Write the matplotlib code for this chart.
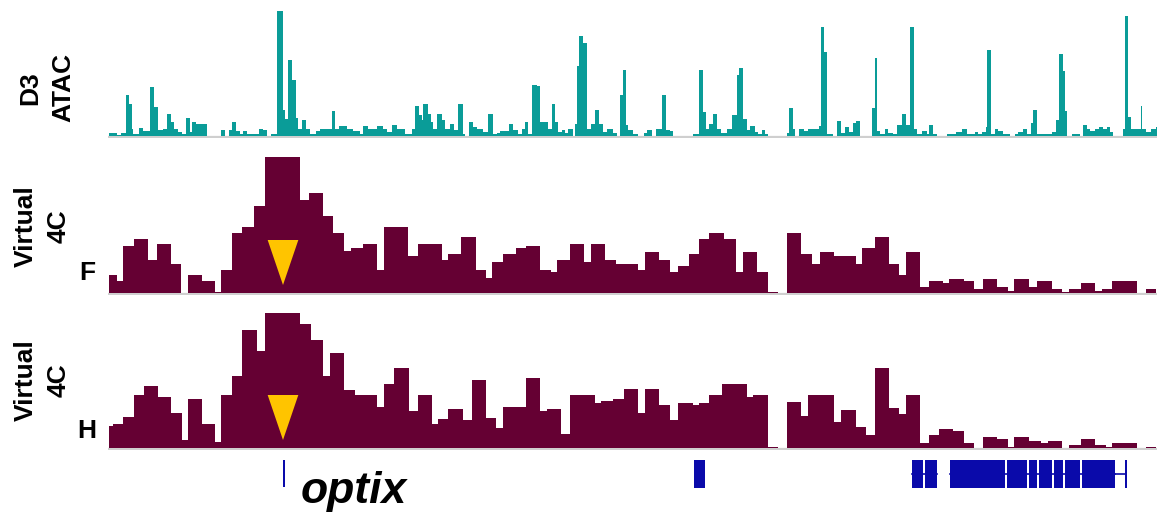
import matplotlib
matplotlib.use("Agg")
import matplotlib.pyplot as plt
from matplotlib.patches import Rectangle

W, H = 1159, 519
plt.rcParams['font.family'] = ['Liberation Sans', 'DejaVu Sans']

# ---------------- data (genomic position in arbitrary units) ----------------
atac_edges = [327,333,350,363,377,388,395,400,418,430,450,463,475,488,500,512,522,535,545,557,
              570,576,589,596,620,662,676,688,696,708,720,730,742,778,790,800,813,830,850,855,
              865,875,888,895,905,917,930,948,960,995,1006,1018,1042,1060,1080,1090,1105,1130,1148,1162,
              1175,1190,1215,1235,1245,1258,1265,1270,1283,1293,1300,1310,1325,1335,1350,1362,1373,1390,1395,1408,
              1420,1430,1450,1465,1478,1490,1500,1528,1540,1555,1565,1575,1585,1597,1610,1620,1645,1655,1665,1675,
              1685,1695,1705,1718,1725,1730,1738,1748,1760,1772,1786,1796,1808,1820,1840,1850,1860,1868,1878,1885,
              1900,1915,1933,1940,1957,1967,1985,1997,2010,2020,2080,2098,2110,2117,2128,2140,2152,2162,2180,2197,
              2210,2218,2228,2240,2250,2265,2275,2285,2295,2305,2360,2367,2378,2385,2398,2412,2425,2458,2462,2473,
              2480,2500,2510,2523,2535,2547,2560,2568,2580,2615,2625,2630,2640,2655,2665,2678,2690,2705,2717,2729,
              2742,2750,2767,2780,2787,2798,2810,2840,2855,2867,2885,2900,2910,2925,2935,2947,2957,2962,2972,2985,
              2995,3008,3030,3045,3055,3068,3082,3092,3100,3110,3125,3140,3155,3168,3176,3188,3195,3200,3215,3240,
              3250,3260,3270,3285,3298,3310,3320,3330,3340,3368,3375,3385,3392,3402,3422,3427,3437,3452,3467,3477]
atac_values = [3,3,1,3,41,32,7,2,8,5,49,29,6,7,22,14,7,4,2,18,
               4,14,12,12,0,6,0,6,14,5,2,5,2,7,6,0,2,125,26,17,
               76,56,18,7,16,7,2,5,7,25,7,10,7,5,2,10,7,10,7,4,
               11,7,2,7,30,21,16,32,22,14,7,22,16,7,12,6,32,2,0,14,
               9,7,4,22,2,3,5,12,6,2,7,14,2,51,50,14,7,32,14,4,
               6,3,7,0,12,70,100,93,7,12,26,12,4,7,3,0,41,66,11,6,
               2,0,3,6,0,7,41,6,5,0,2,66,24,7,12,22,7,3,7,21,
               61,68,17,6,10,4,2,6,2,0,3,28,7,0,7,5,7,10,109,84,
               2,0,15,3,9,4,13,15,0,28,78,5,2,7,3,2,11,22,11,109,
               7,2,5,2,11,2,0,2,2,4,7,2,2,4,2,4,9,86,2,7,
               5,2,0,2,4,7,2,13,26,2,2,2,4,16,82,65,25,0,2,0,
               11,7,5,7,9,7,9,4,0,7,120,19,7,7,30,7,4,7,9]

f_edges = [327,350,370,403,443,470,512,543,563,605,645,663,695,727,763,795,900,927,968,1000,
           1032,1052,1090,1132,1152,1225,1253,1325,1345,1383,1427,1458,1477,1508,1547,1578,1620,1653,1672,1710,
           1753,1772,1815,1847,1915,1935,1977,2010,2035,2066,2098,2128,2172,2209,2230,2272,2305,2335,2360,2403,
           2435,2460,2503,2567,2586,2624,2666,2698,2718,2760,2786,2830,2848,2892,2923,2950,2992,3023,3043,3086,
           3111,3155,3186,3206,3243,3286,3306,3336,3411,3437,3468]
f_values = [18,12,47,54,33,49,29,0,18,12,1,23,60,66,87,136,93,100,77,60,
            42,45,49,23,66,37,49,33,39,56,23,15,31,39,45,47,23,21,33,49,
            31,49,33,29,23,41,33,21,27,39,54,60,54,21,41,21,1.3,0,60,39,
            29,41,37,29,45,56,29,18,41,6,12,10,14,12,4,14,6,2,14,6,
            12,4,1,4,10,2,4,12,0,4]

h_edges = [327,338,370,403,433,475,512,545,563,605,645,663,695,727,770,795,900,933,970,990,
           1032,1065,1132,1152,1183,1227,1253,1295,1315,1345,1390,1415,1458,1488,1508,1578,1620,1640,1683,1710,
           1785,1803,1840,1872,1915,1935,1978,2010,2035,2080,2097,2128,2166,2240,2260,2305,2335,2360,2403,2423,
           2503,2523,2567,2598,2624,2666,2698,2718,2760,2786,2817,2860,2892,2923,2950,2992,3023,3043,3086,3123,
           3143,3186,3206,3243,3286,3318,3336,3411,3437,3468]
h_values = [22,24,31,53,62,51,35,8,49,24,6,53,72,118,97,135,124,108,72,95,
            58,53,41,64,80,37,53,24,29,39,28,68,30,20,41,70,37,39,14,53,
            45,47,49,59,35,59,43,28,45,43,45,53,64,51,53,1.3,0,46,32,53,
            26,38,21,13,80,40,34,53,5,13,19,17,5,0,11,9,1,11,7,5,
            7,0,3,9,3,1.5,5,0,1]

viewpoint = 849            # position of the optix viewpoint (triangle)
gene_tss = (849, 855)      # thin mark at optix start
gene_single = [(2082, 2115)]
gene_group1 = [(2736, 2768), (2775, 2812)]
gene_group2 = [(2850, 3016), (3022, 3080), (3086, 3112), (3118, 3156), (3162, 3190), (3196, 3240), (3246, 3346)]
gene_thin = [(3375, 3381)]
gene_label = "optix"

XMIN, XMAX = 324, 3471
TEAL = '#0A9C98'
MAROON = '#650033'
GOLD = '#FFC400'
BLUE = '#0A0AAA'
GREY = '#cfcfcf'

fig = plt.figure(figsize=(W / 100, H / 100), dpi=100)

def px_axes(x0, y0, x1, y1):
    ax = fig.add_axes([x0 / W, 1 - y1 / H, (x1 - x0) / W, (y1 - y0) / H])
    ax.set_xlim(XMIN, XMAX)
    ax.axis('off')
    return ax

# ATAC track
ax1 = px_axes(108, 10, 1157, 138)
ax1.set_ylim(-2, 126)
ax1.axhline(-0.6, color=GREY, lw=1.6, zorder=0)
ax1.stairs(atac_values, atac_edges, fill=True, color=TEAL, lw=0, zorder=2)

# Virtual 4C tracks
def v4c(ax, vals, edges, top):
    ax.set_ylim(-2, top)
    ax.axhline(-0.6, color=GREY, lw=1.6, zorder=0)
    ax.stairs(vals, edges, fill=True, color=MAROON, lw=0, zorder=2)
    hw = 46
    ax.fill([viewpoint - hw, viewpoint + hw, viewpoint], [53, 53, 8], color=GOLD, zorder=3, lw=0)

ax2 = px_axes(108, 155, 1157, 295)
v4c(ax2, f_values, f_edges, 138)
ax3 = px_axes(108, 311, 1157, 450)
v4c(ax3, h_values, h_edges, 137)

# Gene track
ax4 = px_axes(108, 455, 1157, 519)
ax4.set_ylim(64, 0)
ax4.add_patch(Rectangle((gene_tss[0], 5), gene_tss[1] - gene_tss[0], 27, color=BLUE, lw=0))
for grp in (gene_single, gene_group1, gene_group2, gene_thin):
    if len(grp) > 1:
        ax4.plot([grp[0][0], grp[-1][1]], [19, 19], color=BLUE, lw=1.2)
    for s, e in grp:
        ax4.add_patch(Rectangle((s, 5), e - s, 28, color=BLUE, lw=0))
ax4.plot([gene_group2[-1][1], gene_thin[0][0]], [19, 19], color=BLUE, lw=1.2)
ax4.text(gene_tss[1] + 48, 37, gene_label, fontsize=32, fontweight='bold', fontstyle='italic',
         ha='left', va='center', color='black')

# labels
lab = dict(rotation=90, fontsize=19, fontweight='bold', ha='center', va='center',
           multialignment='center', linespacing=1.45)
fig.text(47 / W, 1 - 88 / H, "D3\nATAC", **lab)
fig.text(42 / W, 1 - 226 / H, "Virtual\n4C", **lab)
fig.text(87 / W, 1 - 273 / H, "F", fontsize=19, fontweight='bold', ha='center', va='center')
fig.text(42 / W, 1 - 380 / H, "Virtual\n4C", **lab)
fig.text(87 / W, 1 - 431 / H, "H", fontsize=19, fontweight='bold', ha='center', va='center')

fig.savefig("out.png", dpi=100)
